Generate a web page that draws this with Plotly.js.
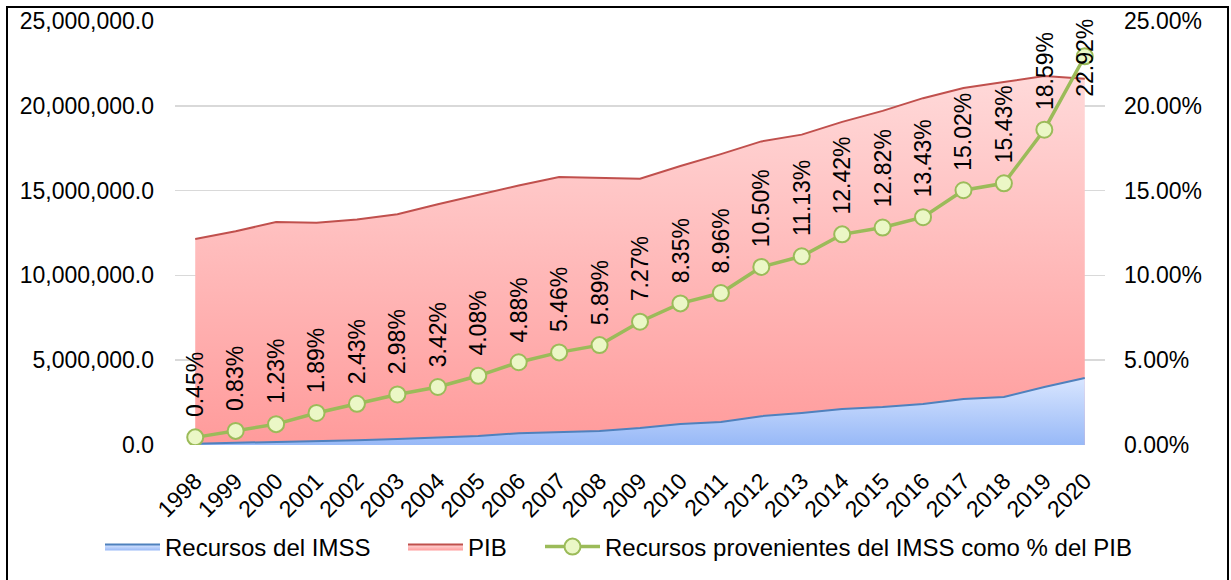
<!DOCTYPE html>
<html>
<head>
<meta charset="utf-8">
<script src="https://cdn.plot.ly/plotly-3.0.1.min.js"></script>
<style>
html,body{margin:0;padding:0;background:#fff;}
#chart{width:1231px;height:580px;}
</style>
</head>
<body>
<div id="chart"></div>
<script>
const years = ["1998","1999","2000","2001","2002","2003","2004","2005","2006","2007","2008","2009","2010","2011","2012","2013","2014","2015","2016","2017","2018","2019","2020"];
const pib = [12150000,12600000,13150000,13100000,13300000,13600000,14200000,14750000,15300000,15800000,15750000,15700000,16450000,17150000,17900000,18300000,19050000,19700000,20450000,21050000,21400000,21750000,21600000];
const imss = [80000,120000,160000,220000,280000,350000,460000,530000,700000,770000,830000,1000000,1240000,1360000,1700000,1890000,2120000,2240000,2420000,2710000,2830000,3420000,3950000];
const pct = [0.0045,0.0083,0.0123,0.0189,0.0243,0.0298,0.0342,0.0408,0.0488,0.0546,0.0589,0.0727,0.0835,0.0896,0.1050,0.1113,0.1242,0.1282,0.1343,0.1502,0.1543,0.1859,0.2292];
const seriesNames = ["Recursos del IMSS","PIB","Recursos provenientes del IMSS como % del PIB"];

const FONT = "Liberation Sans, Arial, sans-serif";
const FS = 23;

const traces = [
  {
    x: years, y: pib, name: seriesNames[1], type: "scatter", mode: "lines",
    fill: "tozeroy",
    line: {color: "#C0504D", width: 2},
    fillcolor: "#FFB8B8",
    fillgradient: {type: "vertical", start: 0, stop: 22000000,
      colorscale: [[0, "#FF9B9B"], [1, "#FFDADA"]]},
    legend: "legend2", hoverinfo: "skip"
  },
  {
    x: years, y: imss, name: seriesNames[0], type: "scatter", mode: "lines",
    fill: "tozeroy",
    line: {color: "#4F81BD", width: 2},
    fillcolor: "#BCD2FC",
    fillgradient: {type: "vertical", start: 0, stop: 4000000,
      colorscale: [[0, "#98B9F7"], [1, "#D9E6FF"]]},
    legend: "legend", hoverinfo: "skip"
  },
  {
    x: years, y: pct, name: seriesNames[2], type: "scatter", mode: "lines+markers",
    yaxis: "y2",
    line: {color: "#9BBB59", width: 3.5},
    marker: {size: 16, color: "#EBF7C6", line: {color: "#9BBB59", width: 2}},
    legend: "legend3", hoverinfo: "skip"
  }
];

// data labels (rotated), clamped within plot area at the top
const plotH = 424, y2max = 0.25, labelLen = 80, gap = 18;
const annotations = years.map((yr, i) => {
  const px = pct[i] / y2max * plotH;
  const label = (pct[i] * 100).toFixed(2) + "%";
  const base = {x: i, xref: "x", yref: "y2", text: label, showarrow: false,
    textangle: -90, xanchor: "center", font: {family: FONT, size: FS, color: "#000"}};
  if (px + gap + labelLen > plotH + 4) {
    return Object.assign(base, {y: y2max, yanchor: "top", yshift: 4});
  }
  return Object.assign(base, {y: pct[i], yanchor: "bottom", yshift: gap});
});

const L = 175, R = 1105, T = 21, B = 445, W = 930, H = 424;
const px2x = p => (p - L) / W;
const px2y = p => (B - p) / H;
const cx = p => p / 1231;
const cy = p => 1 - p / 580;

function legendAt(xpx) {
  return {orientation: "h", xref: "container", yref: "container", x: cx(xpx), xanchor: "left",
    y: cy(547), yanchor: "middle", bgcolor: "rgba(0,0,0,0)",
    font: {family: FONT, size: 24, color: "#000"}, itemwidth: 55};
}

const layout = {
  width: 1231, height: 580,
  margin: {l: L, r: 1231 - R, t: T, b: 580 - B, pad: 0, autoexpand: false},
  paper_bgcolor: "#fff", plot_bgcolor: "rgba(0,0,0,0)",
  font: {family: FONT, size: FS, color: "#000"},
  showlegend: true,
  legend: legendAt(100),
  legend2: legendAt(403),
  legend3: legendAt(540),
  xaxis: {
    type: "category", range: [-0.5, 22.5], tickangle: -45,
    showgrid: false, zeroline: false, showline: false, ticks: "",
    tickfont: {family: FONT, size: FS, color: "#000"}, ticklabelstandoff: 17,
    fixedrange: true
  },
  yaxis: {
    range: [0, 25000000], dtick: 5000000, tickformat: ",.1f",
    showgrid: true, gridcolor: "#D9D9D9", gridwidth: 1.5, zeroline: false, showline: false, ticks: "",
    tickfont: {family: FONT, size: FS, color: "#000"}, ticklabelstandoff: 20,
    fixedrange: true
  },
  yaxis2: {
    range: [0, 0.25], dtick: 0.05, tickformat: ".2%", overlaying: "y", side: "right",
    showgrid: false, zeroline: false, showline: false, ticks: "",
    tickfont: {family: FONT, size: FS, color: "#000"}, ticklabelstandoff: 18,
    fixedrange: true
  },
  annotations: annotations,
  shapes: [{
    type: "rect", xref: "paper", yref: "paper",
    x0: px2x(7), x1: px2x(1228), y0: px2y(584), y1: px2y(7),
    line: {color: "#000", width: 2}, fillcolor: "rgba(0,0,0,0)", layer: "above"
  }]
};

Plotly.newPlot("chart", traces, layout, {displayModeBar: false, staticPlot: true});
</script>
</body>
</html>
